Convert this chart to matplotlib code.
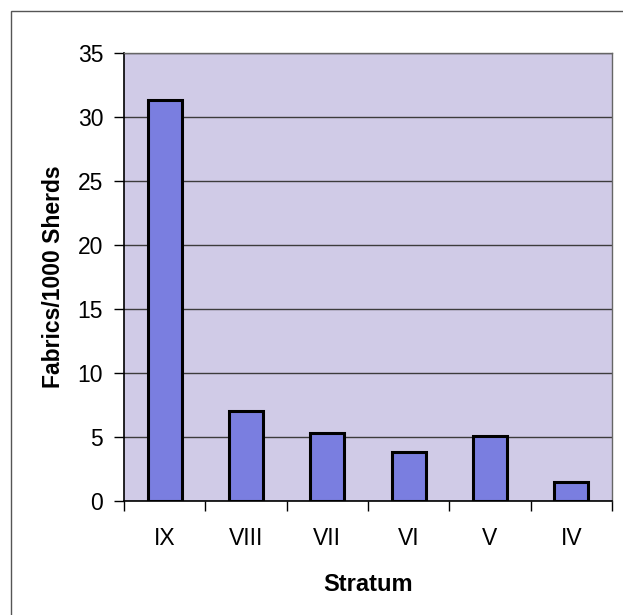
import numpy as np
import matplotlib.pyplot as plt
from matplotlib.patches import Rectangle

strata = ['IX', 'VIII', 'VII', 'VI', 'V', 'IV']
fabrics_per_1000 = [31.3, 7.0, 5.35, 3.85, 5.05, 1.45]
yticks = [0, 5, 10, 15, 20, 25, 30, 35]

plt.rcParams['font.family'] = ['Liberation Sans', 'DejaVu Sans']

W, H = 623, 615
fig = plt.figure(figsize=(W / 100, H / 100), dpi=100)
fig.patch.set_facecolor('white')

# chart border (only top and left fall inside the frame)
fig.add_artist(Rectangle((11 / W, -0.1), 1.2, (H - 11) / H + 0.1,
                         transform=fig.transFigure, fill=False,
                         edgecolor='#555555', linewidth=1.0))

ax = fig.add_axes([124 / W, 1 - 501 / H, (612 - 124) / W, (501 - 53) / H])
ax.set_facecolor('#d0cbe7')

x = np.arange(len(strata))
ax.bar(x, fabrics_per_1000, width=0.42, color='#7a7ee0',
       edgecolor='black', linewidth=2.2, zorder=3)

ax.set_xlim(-0.5, len(strata) - 0.5)
ax.set_ylim(0, 35)
ax.set_yticks(yticks)
ax.grid(axis='y', color='#3c3c3c', linewidth=1.0, zorder=1)

ax.set_xticks(x)
ax.set_xticklabels(strata)
ax.set_xticks(np.arange(-0.5, len(strata)), minor=True)
ax.tick_params(axis='x', which='major', length=0, pad=19, labelsize=16.5)
ax.tick_params(axis='x', which='minor', length=7, width=1, color='black')
ax.tick_params(axis='y', length=7, width=1, labelsize=16.5, pad=8)

for side in ['left', 'bottom']:
    ax.spines[side].set_color('black')
    ax.spines[side].set_linewidth(1.2)
for side in ['top', 'right']:
    ax.spines[side].set_color('#666666')
    ax.spines[side].set_linewidth(1.0)

ax.set_xlabel('Stratum', fontsize=17, fontweight='bold', labelpad=16)
ax.set_ylabel('Fabrics/1000 Sherds', fontsize=16.5, fontweight='bold', labelpad=9)

fig.savefig('out.png', dpi=100)
